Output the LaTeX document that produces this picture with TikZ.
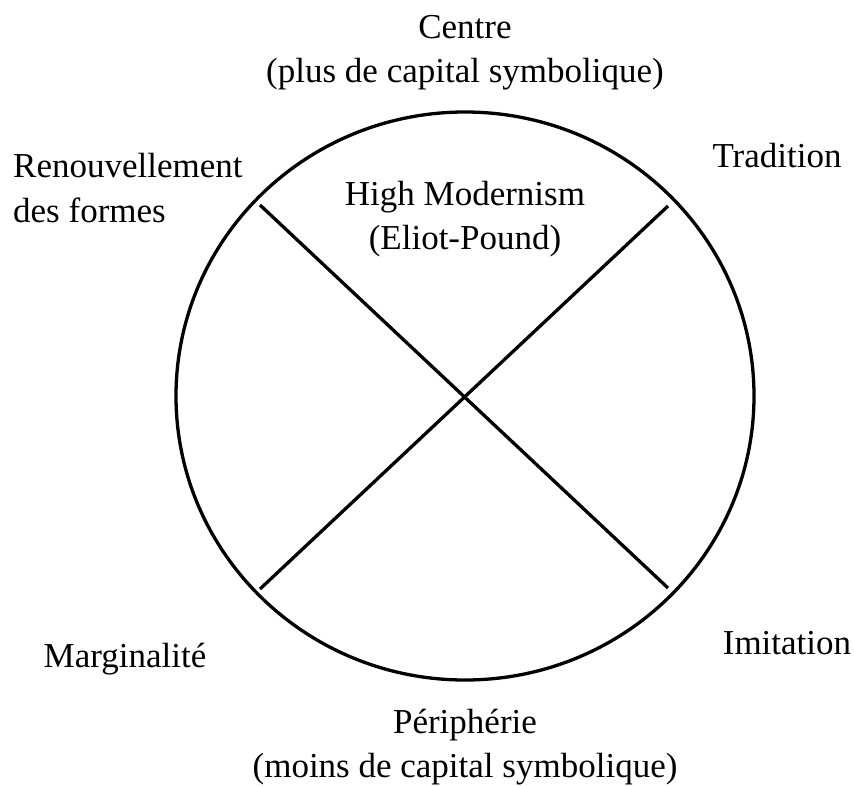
\documentclass[tikz,border=0pt]{standalone}
\usepackage{fontspec}
\setmainfont{Liberation Serif}
\begin{document}
\begin{tikzpicture}[x=1pt,y=-1pt,
  lbl/.style={inner sep=0pt,anchor=base,font=\fontsize{35}{45}\selectfont},
  lblw/.style={inner sep=0pt,anchor=base west,font=\fontsize{35}{45}\selectfont},
  ln/.style={line width=3.3pt}]
\useasboundingbox[fill=white] (0,0) rectangle (854,785);
\draw[ln] (465,396) ellipse [x radius=289, y radius=284];
\coordinate (ul) at (260,205);
\coordinate (ur) at (668,206);
\coordinate (ll) at (260,589);
\coordinate (lr) at (668,588);
\draw[ln] (ul) -- (lr);
\draw[ln] (ur) -- (ll);
\node[lbl] (c1) at (465,38) {Centre};
\node[lbl] (c2) at (465,82) {(plus de capital symbolique)};
\node[lbl] (trad) at (777,167) {Tradition};
\node[lblw] (ren1) at (13,177) {Renouvellement};
\node[lblw] (ren2) at (13,222) {des formes};
\node[lbl] (hm1) at (465,205) {High Modernism};
\node[lbl] (hm2) at (465,249) {(Eliot-Pound)};
\node[lbl] (marg) at (125,667) {Marginalité};
\node[lbl] (imit) at (787,654) {Imitation};
\node[lbl] (p1) at (465,733) {Périphérie};
\node[lbl] (p2) at (465,777) {(moins de capital symbolique)};
\end{tikzpicture}
\end{document}
